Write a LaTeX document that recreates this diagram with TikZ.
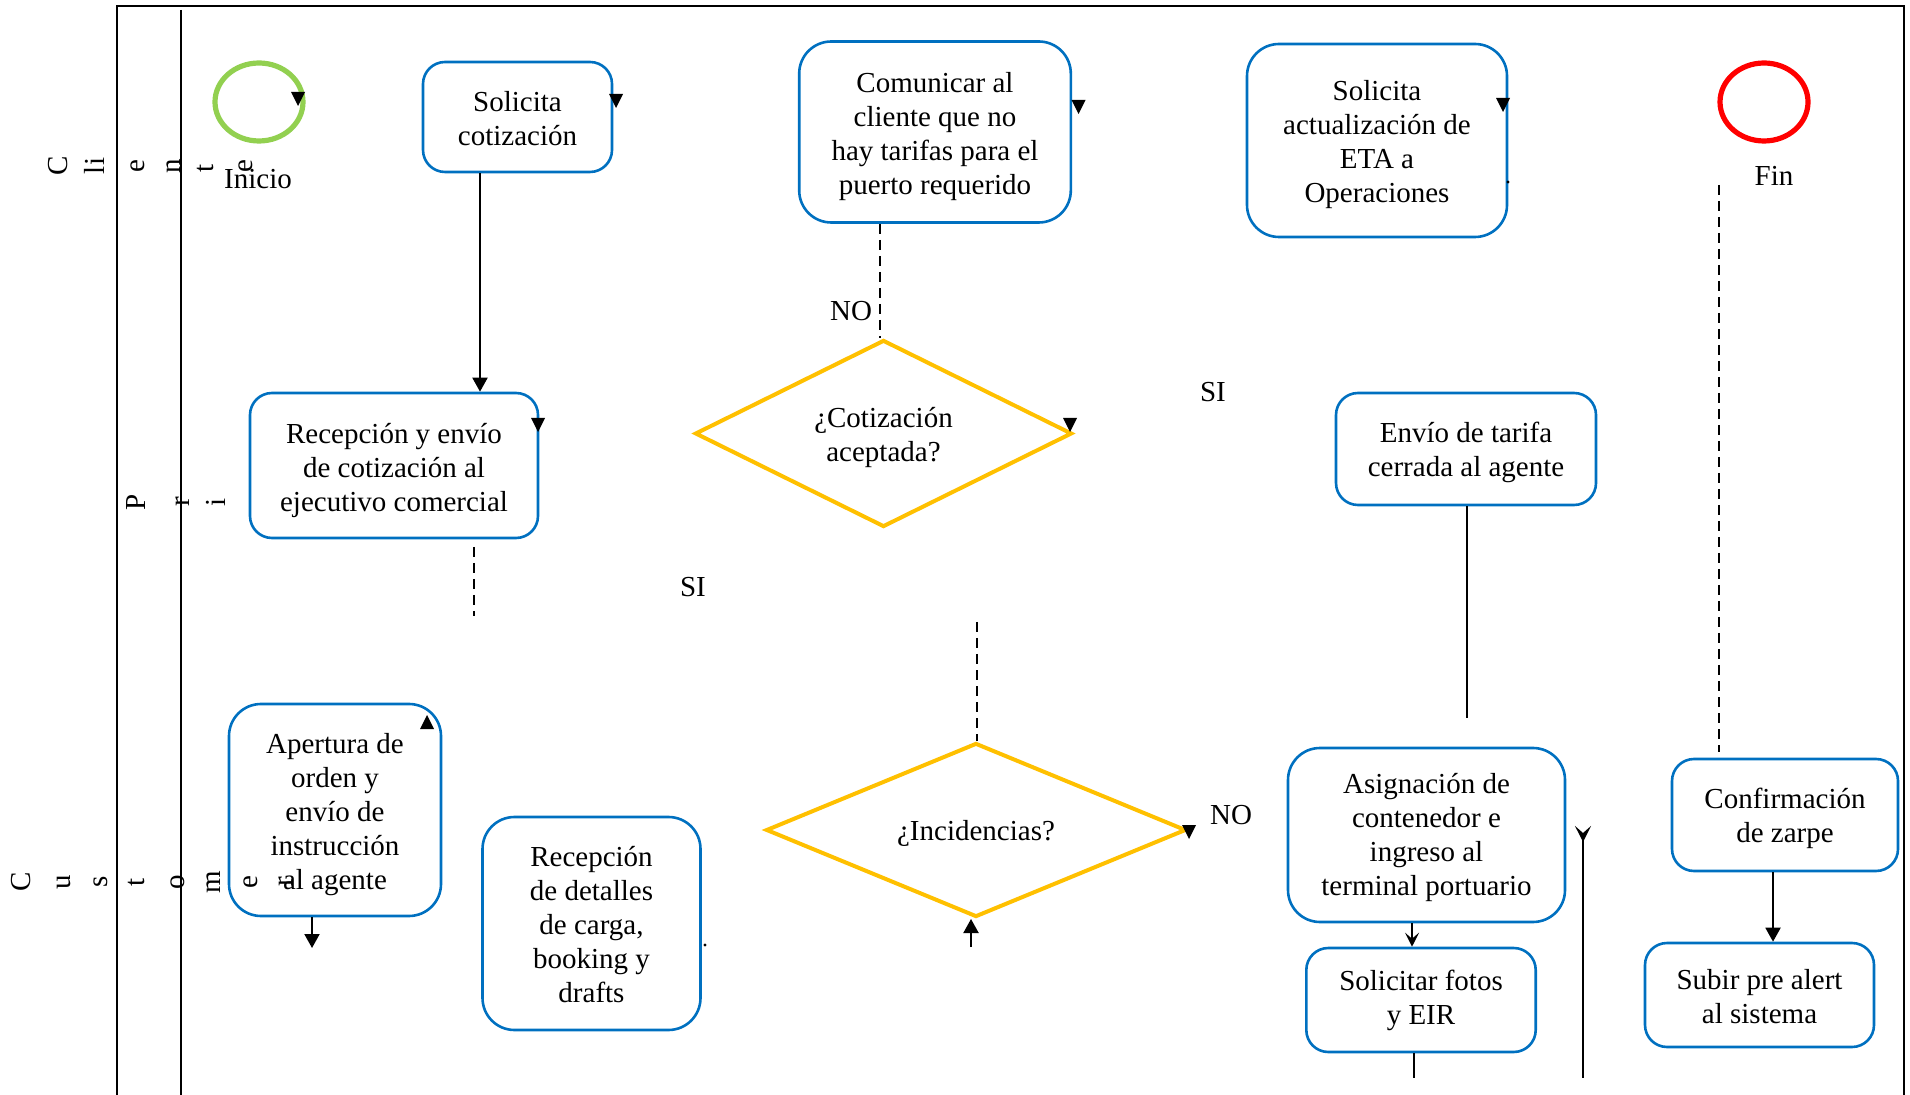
\documentclass[tikz,border=0pt]{standalone}
\usepackage{fontspec}
\setmainfont{Liberation Serif}
\usetikzlibrary{shapes.geometric,arrows.meta,calc}

\definecolor{taskblue}{HTML}{0070C0}
\definecolor{gateyellow}{HTML}{FFC000}
\definecolor{startgreen}{HTML}{92D050}
\definecolor{endred}{HTML}{FF0000}

% small free-standing arrow heads
\newcommand\tipdown[1]{\fill #1 ++(-7,-7) -- ++(14,0) -- ++(-7,14) -- cycle;}
\newcommand\tipup[1]{\fill #1 ++(-7,7) -- ++(14,0) -- ++(-7,-14) -- cycle;}

\begin{document}
\begin{tikzpicture}[x=0.5pt,y=-0.5pt,
  every node/.style={font=\fontsize{14.5}{17}\selectfont, inner sep=0pt},
  task/.style={draw=taskblue, line width=1.3pt, rounded corners=11pt},
  bigtask/.style={task, rounded corners=16pt},
  boxtext/.style={align=center},
  decision/.style={diamond, draw=gateyellow, line width=2pt},
  event/.style={ellipse, line width=2.6pt, minimum width=44pt, minimum height=39pt},
  flow/.style={line width=1pt},
  flowarr/.style={line width=1pt, -{Triangle[length=7pt,width=7.5pt]}},
  cond/.style={line width=1.1pt, dash pattern=on 5pt off 3pt},
  lanechar/.style={rotate=90, text height=10pt, text depth=3pt},
  frameline/.style={line width=1.35pt}
]
\useasboundingbox (0,0) rectangle (1910,1095);

% pool frame and lane header divider
\coordinate (tl) at (117,6);
\coordinate (tr) at (1904,6);
\coordinate (bl) at (117,1095);
\coordinate (br) at (1904,1095);
\coordinate (dtop) at (181,10);
\coordinate (dbot) at (181,1095);
\draw[frameline] (bl) -- (tl) -- (tr) -- (br);
\draw[frameline] (dtop) -- (dbot);

% lane titles, one letter per line
\node[lanechar] (l1) at (60,166) {C};
\node[lanechar] (l2) at (97,166) {li};
\node[lanechar] (l3) at (137,166) {e};
\node[lanechar] (l4) at (173,166) {n};
\node[lanechar] (l5) at (206,168) {t};
\node[lanechar] (l6) at (245,166) {e};

\node[lanechar] (m1) at (138,502) {P};
\node[lanechar] (m2) at (182,502) {r};
\node[lanechar] (m3) at (218,502) {i};

\node[lanechar] (n1) at (23,882) {C};
\node[lanechar] (n2) at (63,882) {u};
\node[lanechar] (n3) at (100,882) {s};
\node[lanechar] (n4) at (137,882) {t};
\node[lanechar] (n5) at (177,882) {o};
\node[lanechar] (n6) at (213,882) {m};
\node[lanechar] (n7) at (250,882) {e};
\node[lanechar] (n8) at (285,882) {r};

% events
\node[event, draw=startgreen] (start) at (259,102) {};
\node (inicio) at (258,179) {Inicio};
\node[event, draw=endred] (end) at (1764,102) {};
\node (fin) at (1774,176) {Fin};

% tasks (outline) and their captions
\node[task, minimum width=94.5pt, minimum height=55pt] (solic) at (517.5,117) {};
\node[bigtask, minimum width=135.8pt, minimum height=90.5pt] (comun) at (935,132) {};
\node[bigtask, minimum width=130pt, minimum height=96.5pt] (actual) at (1377,140.5) {};
\node[task, minimum width=144pt, minimum height=72.5pt] (recep) at (394,465.5) {};
\node[task, minimum width=130pt, minimum height=56pt] (envio) at (1466,449) {};
\node[bigtask, minimum width=106pt, minimum height=106pt] (apert) at (335,810) {};
\node[bigtask, minimum width=109pt, minimum height=106.5pt] (detal) at (591.5,923.5) {};
\node[bigtask, minimum width=138.5pt, minimum height=87pt] (asign) at (1426.5,835) {};
\node[task, minimum width=114.7pt, minimum height=52pt] (fotos) at (1421,1000) {};
\node[task, minimum width=113pt, minimum height=56pt] (confirm) at (1785,815) {};
\node[task, minimum width=114.5pt, minimum height=52pt] (subir) at (1759.5,995) {};

\node[boxtext] (solic-t) at ([yshift=-0.6pt]solic.center) {Solicita\\cotización};
\node[boxtext] (comun-t) at ([yshift=-2.4pt]comun.center) {Comunicar al\\cliente que no\\hay tarifas para el\\puerto requerido};
\node[boxtext] (actual-t) at ([yshift=-1.8pt]actual.center) {Solicita\\actualización de\\ETA a\\Operaciones};
\node[boxtext] (recep-t) at ([yshift=-2.4pt]recep.center) {Recepción y envío\\de cotización al\\ejecutivo comercial};
\node[boxtext] (envio-t) at ([yshift=-1.8pt]envio.center) {Envío de tarifa\\cerrada al agente};
\node[boxtext] (apert-t) at ([yshift=-2.4pt]apert.center) {Apertura de\\orden y\\envío de\\instrucción\\al agente};
\node[boxtext] (detal-t) at ([yshift=-0.6pt]detal.center) {Recepción\\de detalles\\de carga,\\booking y\\drafts};
\node[boxtext] (asign-t) at ([yshift=-1.2pt]asign.center) {Asignación de\\contenedor e\\ingreso al\\terminal portuario};
\node[boxtext] (fotos-t) at (fotos.center) {Solicitar fotos\\y EIR};
\node[boxtext] (confirm-t) at ([yshift=-1.8pt]confirm.center) {Confirmación\\de zarpe};
\node[boxtext] (subir-t) at ([yshift=-0.6pt]subir.center) {Subir pre alert\\al sistema};

% gateways
\node[decision, minimum width=188.5pt, minimum height=93.5pt] (d1) at (883.5,433.5) {};
\node[decision, minimum width=210pt, minimum height=87pt] (d2) at (976,830) {};
\node[boxtext] (d1-t) at ([yshift=-1.8pt]d1.center) {¿Cotización\\aceptada?};
\node[boxtext] (d2-t) at ([yshift=-1.8pt]d2.center) {¿Incidencias?};

% gateway labels
\node (no1) at (851,311) {NO};
\node (si1) at (693,587) {SI};
\node (si2) at (1213,392) {SI};
\node (no2) at (1231,815) {NO};

% sequence flows
\coordinate (x480) at (480,0);
\draw[flowarr] (x480 |- solic.south) -- (x480 |- recep.north);

\coordinate (x880) at (880,0);
\draw[cond] (x880 |- comun.south) -- (x880 |- d1.north);

\coordinate (r1) at (474,547);
\coordinate (r2) at (474,616);
\draw[cond] (r1) -- (r2);

\coordinate (q1) at (977,622);
\draw[cond] (q1) -- (q1 |- d2.north);

\coordinate (e1) at (1467,718);
\draw[flow] (envio.south -| e1) -- (e1);

\coordinate (f1) at (1719,185);
\coordinate (f2) at (1719,752);
\draw[cond] (f1) -- (f2);

\coordinate (a1) at (312,948);
\draw[flowarr] (a1 |- apert.south) -- (a1);

\coordinate (u1) at (971,947);
\draw[flowarr] (u1) -- (u1 |- d2.south);

\coordinate (s1) at (1412,0);
\draw[line width=1pt, -{Stealth[length=7pt,width=7pt,inset=3pt]}] (s1 |- asign.south) -- (s1 |- fotos.north);

\coordinate (p1) at (1414,1078);
\draw[flow] (p1 |- fotos.south) -- (p1);

\coordinate (y1) at (1583,1078);
\coordinate (y2) at (1583,826);
\draw[line width=1pt, {Stealth[reversed,length=8pt,width=8pt,inset=3.5pt]}-] (y2) -- (y1);

\coordinate (c2) at (1773,0);
\draw[flowarr] (c2 |- confirm.south) -- (c2 |- subir.north);

% loose arrow heads left on the shapes
\tipdown{(298,99)}
\tipdown{(616,101)}
\tipdown{(1078.5,107)}
\tipdown{(1503,105)}
\tipdown{(538,425)}
\tipdown{(1070,425)}
\tipdown{(1189,832)}
\tipup{(427,722)}

% stray points
\fill (1508,182) circle (0.8pt);
\fill (705,945) circle (0.8pt);
\end{tikzpicture}
\end{document}
